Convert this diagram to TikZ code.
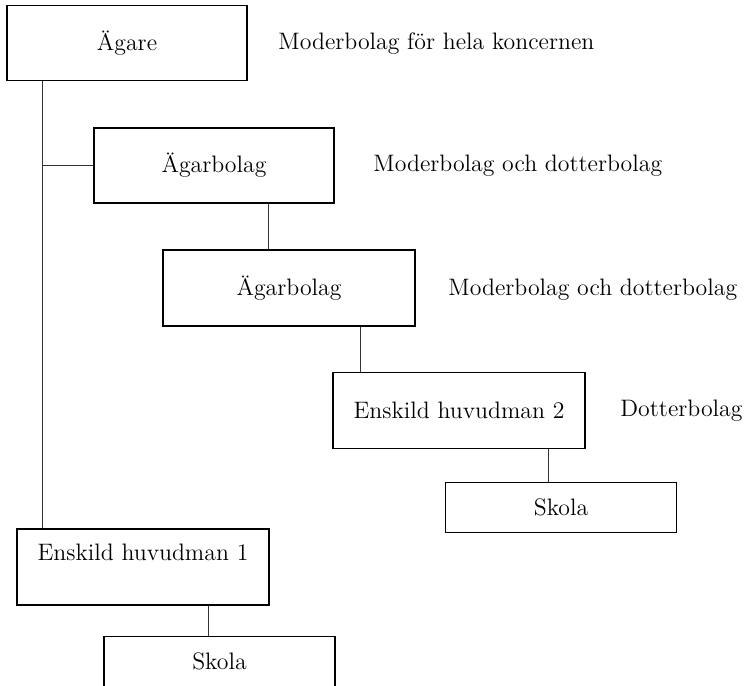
\documentclass[tikz,border=0pt]{standalone}
\usepackage{fontspec}

\begin{document}
\begin{tikzpicture}[x=0.5pt,y=-0.5pt,
    font=\fontsize{11.9}{14}\selectfont,
    box/.style={draw,line width=0.55pt,minimum width=126pt,minimum height=38pt,inner sep=0pt},
    small/.style={minimum width=115.5pt,minimum height=25pt},
    sidelabel/.style={anchor=west,inner sep=0pt},
    link/.style={line width=0.5pt,black!80}]
  \useasboundingbox (0,0) rectangle (748,685);

  % Boxes
  \node[box,minimum width=120pt,minimum height=37.5pt] (agare) at (127,43.4) {Ägare};
  \node[box,minimum width=120pt,minimum height=37.5pt] (agarbolagA) at (214,165.5) {Ägarbolag};
  \node[box] (agarbolagB) at (289,288) {Ägarbolag};
  \node[box] (huvudmanB) at (459,410.5) {Enskild huvudman 2};
  \node[box,small] (skolaB) at (561,507.7) {Skola};
  \node[box,text height=8pt,text depth=14.5pt] (huvudmanA) at (143,567) {Enskild huvudman 1};
  \node[box,small] (skolaA) at (219.5,661.7) {Skola};

  % Side labels
  \node[sidelabel] (textA) at (278,44) {Moderbolag för hela koncernen};
  \node[sidelabel] (textB) at (373,166) {Moderbolag och dotterbolag};
  \node[sidelabel] (textC) at (448,290) {Moderbolag och dotterbolag};
  \node[sidelabel] (textD) at (620,411) {Dotterbolag};

  % Links
  \coordinate (trunk) at (42.5,0);
  \draw[link] (agare.south -| trunk) -- (huvudmanA.north -| trunk);
  \draw[link] (agarbolagA.west) -- (agarbolagA.west -| trunk);
  \draw[link] ([xshift=-10.1pt]agarbolagB.north) -- ([xshift=-10.1pt]agarbolagB.north |- agarbolagA.south);
  \draw[link] ([xshift=-49.1pt]huvudmanB.north) -- ([xshift=-49.1pt]huvudmanB.north |- agarbolagB.south);
  \draw[link] ([xshift=-6.2pt]skolaB.north) -- ([xshift=-6.2pt]skolaB.north |- huvudmanB.south);
  \draw[link] ([xshift=-5.4pt]skolaA.north) -- ([xshift=-5.4pt]skolaA.north |- huvudmanA.south);
\end{tikzpicture}
\end{document}
